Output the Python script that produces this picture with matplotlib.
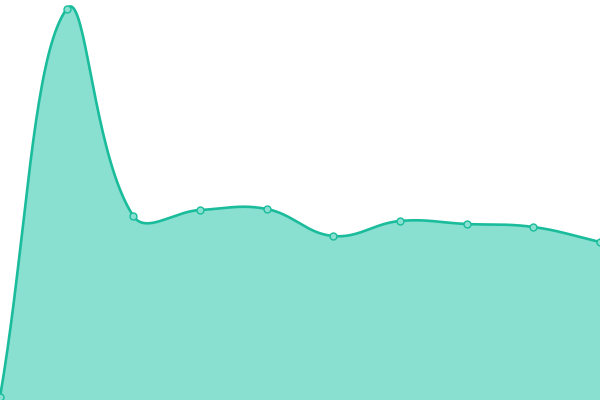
import numpy as np
import matplotlib
matplotlib.use("Agg")
import matplotlib.pyplot as plt

x_idx = [0, 1, 2, 3, 4, 5, 6, 7, 8, 9]
values = [3, 391, 184, 190, 191, 164, 179, 176, 173, 158]

def spline(xs, ys, tension=0.4, n=40):
    # Chart.js-style bezier spline, computed in pixel space
    px = np.asarray(xs, float) * (600 / 9.0)
    py = np.asarray(ys, float)
    N = len(px)
    c1 = np.zeros((N, 2)); c2 = np.zeros((N, 2))
    for i in range(N):
        cur = np.array([px[i], py[i]])
        prev = np.array([px[max(i-1, 0)], py[max(i-1, 0)]])
        nxt = np.array([px[min(i+1, N-1)], py[min(i+1, N-1)]])
        d01 = np.hypot(*(cur - prev)); d12 = np.hypot(*(nxt - cur))
        tot = d01 + d12
        s01 = d01 / tot if tot else 0; s12 = d12 / tot if tot else 0
        c1[i] = cur - tension * s01 * (nxt - prev)
        c2[i] = cur + tension * s12 * (nxt - prev)
    ox, oy = [], []
    t = np.linspace(0, 1, n, endpoint=False)[:, None]
    for i in range(N - 1):
        P0 = np.array([px[i], py[i]]); P3 = np.array([px[i+1], py[i+1]])
        B = (1-t)**3*P0 + 3*(1-t)**2*t*c2[i] + 3*(1-t)*t**2*c1[i+1] + t**3*P3
        ox.extend(B[:, 0]); oy.extend(B[:, 1])
    ox.append(px[-1]); oy.append(py[-1])
    return np.array(ox) * (9 / 600.0), np.array(oy)

sx, sy = spline(x_idx, values)

fig = plt.figure(figsize=(6, 4), dpi=100)
ax = fig.add_axes([0, 0, 1, 1])
ax.fill_between(sx, 0, sy, color='#89e0d0', lw=0)
ax.plot(sx, sy, color='#1abc9c', lw=1.9, solid_capstyle='round')
ax.plot(x_idx, values, 'o', ms=5, mfc='#89e0d0', mec='#1abc9c', mew=1.0)
ax.set_xlim(0, 9)
ax.set_ylim(0, 400)
ax.axis('off')
fig.savefig('out.png', dpi=100)
